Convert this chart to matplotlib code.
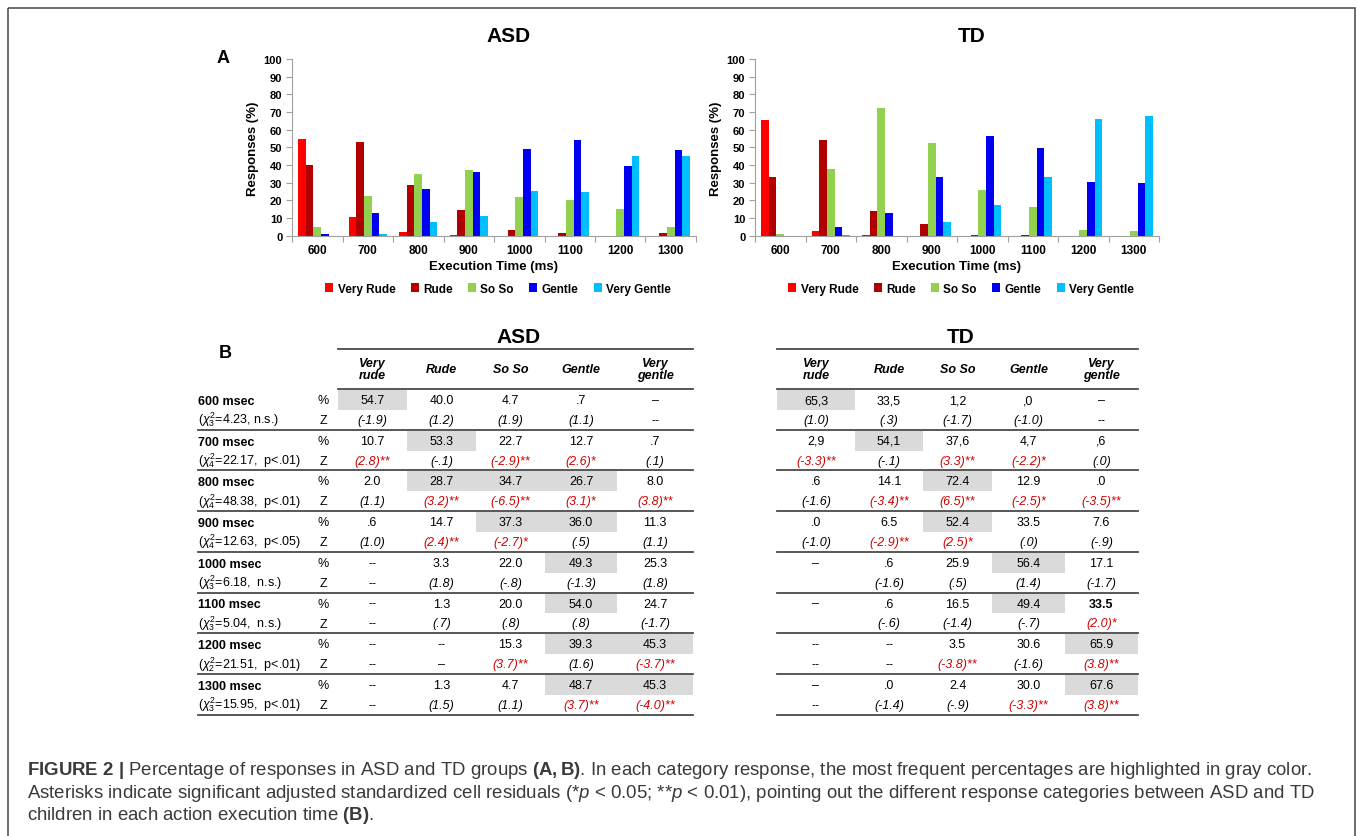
import matplotlib.pyplot as plt
import numpy as np
from matplotlib.patches import Rectangle

plt.rcParams['font.family'] = ['Liberation Sans', 'DejaVu Sans']
plt.rcParams['mathtext.fontset'] = 'custom'
plt.rcParams['mathtext.rm'] = 'Liberation Sans'
plt.rcParams['mathtext.it'] = 'Liberation Sans:italic'
plt.rcParams['mathtext.bf'] = 'Liberation Sans:bold'

# --- data (panel A) ---
times = ['600', '700', '800', '900', '1000', '1100', '1200', '1300']
categories = ['Very Rude', 'Rude', 'So So', 'Gentle', 'Very Gentle']
colors = ['#ff0000', '#b00000', '#92d050', '#0000f0', '#00bfff']

asd_very_rude = [54.7, 10.7, 2.0, 0.6, 0, 0, 0, 0]
asd_rude = [40.0, 53.3, 28.7, 14.7, 3.3, 1.3, 0, 1.3]
asd_so_so = [4.7, 22.7, 34.7, 37.3, 22.0, 20.0, 15.3, 4.7]
asd_gentle = [0.7, 12.7, 26.7, 36.0, 49.3, 54.0, 39.3, 48.7]
asd_very_gentle = [0, 0.7, 8.0, 11.3, 25.3, 24.7, 45.3, 45.3]

td_very_rude = [65.3, 2.9, 0.6, 0, 0, 0, 0, 0]
td_rude = [33.5, 54.1, 14.1, 6.5, 0.6, 0.6, 0, 0]
td_so_so = [1.2, 37.6, 72.4, 52.4, 25.9, 16.5, 3.5, 2.4]
td_gentle = [0, 4.7, 12.9, 33.5, 56.4, 49.4, 30.6, 30.0]
td_very_gentle = [0, 0.6, 0, 7.6, 17.1, 33.5, 65.9, 67.6]

# --- data (panel B) ---
col_headers = ['Very\nrude', 'Rude', 'So So', 'Gentle', 'Very\ngentle']
row_labels = ['600 msec', '700 msec', '800 msec', '900 msec',
              '1000 msec', '1100 msec', '1200 msec', '1300 msec']
chi_labels = [r'($\chi^2_3$=4.23, n.s.)', r'($\chi^2_4$=22.17,  p<.01)',
              r'($\chi^2_4$=48.38,  p<.01)', r'($\chi^2_4$=12.63,  p<.05)',
              r'($\chi^2_3$=6.18,  n.s.)', r'($\chi^2_3$=5.04,  n.s.)',
              r'($\chi^2_2$=21.51,  p<.01)', r'($\chi^2_3$=15.95,  p<.01)']

asd_pct = [['54.7', '40.0', '4.7', '.7', '–'],
           ['10.7', '53.3', '22.7', '12.7', '.7'],
           ['2.0', '28.7', '34.7', '26.7', '8.0'],
           ['.6', '14.7', '37.3', '36.0', '11.3'],
           ['--', '3.3', '22.0', '49.3', '25.3'],
           ['--', '1.3', '20.0', '54.0', '24.7'],
           ['--', '--', '15.3', '39.3', '45.3'],
           ['--', '1.3', '4.7', '48.7', '45.3']]
asd_z = [['(-1.9)', '(1.2)', '(1.9)', '(1.1)', '--'],
         ['(2.8)**', '(-.1)', '(-2.9)**', '(2.6)*', '(.1)'],
         ['(1.1)', '(3.2)**', '(-6.5)**', '(3.1)*', '(3.8)**'],
         ['(1.0)', '(2.4)**', '(-2.7)*', '(.5)', '(1.1)'],
         ['--', '(1.8)', '(-.8)', '(-1.3)', '(1.8)'],
         ['--', '(.7)', '(.8)', '(.8)', '(-1.7)'],
         ['--', '–', '(3.7)**', '(1.6)', '(-3.7)**'],
         ['--', '(1.5)', '(1.1)', '(3.7)**', '(-4.0)**']]
asd_gray = [[0], [1], [1, 2, 3], [2, 3], [3], [3], [3, 4], [3, 4]]

td_pct = [['65,3', '33,5', '1,2', ',0', '–'],
          ['2,9', '54,1', '37,6', '4,7', ',6'],
          ['.6', '14.1', '72.4', '12.9', '.0'],
          ['.0', '6.5', '52.4', '33.5', '7.6'],
          ['–', '.6', '25.9', '56.4', '17.1'],
          ['–', '.6', '16.5', '49.4', '33.5'],
          ['--', '--', '3.5', '30.6', '65.9'],
          ['–', '.0', '2.4', '30.0', '67.6']]
td_z = [['(1.0)', '(.3)', '(-1.7)', '(-1.0)', '--'],
        ['(-3.3)**', '(-.1)', '(3.3)**', '(-2.2)*', '(.0)'],
        ['(-1.6)', '(-3.4)**', '(6.5)**', '(-2.5)*', '(-3.5)**'],
        ['(-1.0)', '(-2.9)**', '(2.5)*', '(.0)', '(-.9)'],
        ['', '(-1.6)', '(.5)', '(1.4)', '(-1.7)'],
        ['', '(-.6)', '(-1.4)', '(-.7)', '(2.0)*'],
        ['--', '--', '(-3.8)**', '(-1.6)', '(3.8)**'],
        ['--', '(-1.4)', '(-.9)', '(-3.3)**', '(3.8)**']]
td_gray = [[0], [1], [2], [2], [3], [3], [4], [4]]

W, H = 1358, 837
fig = plt.figure(figsize=(W / 100, H / 100), dpi=100)
fig.patch.set_facecolor('white')


def frac(x0, y0, x1, y1):
    return [x0 / W, 1 - y1 / H, (x1 - x0) / W, (y1 - y0) / H]


def bar_panel(rect, title, series):
    ax = fig.add_axes(rect)
    x = np.arange(len(times))
    w = 0.152
    for i, vals in enumerate(series):
        ax.bar(x + (i - 2) * w, vals, w, color=colors[i], label=categories[i], linewidth=0)
    ax.set_xlim(-0.5, len(times) - 0.5)
    ax.set_ylim(0, 100)
    ax.set_yticks(range(0, 101, 10))
    ax.set_xticks(np.arange(-0.5, len(times), 1))
    ax.set_xticklabels([])
    ax.set_xticks(x, minor=True)
    ax.set_xticklabels(times, minor=True, fontweight='bold', fontsize=8.5)
    ax.tick_params(axis='x', which='minor', length=0, pad=6)
    ax.tick_params(axis='x', which='major', length=4, color='#a0a0a0')
    ax.tick_params(axis='y', length=4, color='#a0a0a0', pad=3, labelsize=8)
    for t in ax.get_yticklabels():
        t.set_fontweight('bold')
    for s in ['top', 'right']:
        ax.spines[s].set_visible(False)
    for s in ['left', 'bottom']:
        ax.spines[s].set_color('#a0a0a0')
    ax.set_title(title, fontsize=15, fontweight='bold', pad=13, x=0.535)
    ax.set_xlabel('Execution Time (ms)', fontsize=9.5, fontweight='bold')
    ax.xaxis.set_label_coords(0.5, -0.14)
    yl = ax.set_ylabel('Responses (%)', fontsize=9.5, fontweight='bold')
    yl.set_va('center')
    ax.yaxis.set_label_coords(-0.0965, 0.5)
    ax.legend(loc='center', bbox_to_anchor=(0.51, -0.3), ncol=5, frameon=False,
              handlelength=0.7, handleheight=0.7, handletextpad=0.35,
              columnspacing=1.3, prop={'weight': 'bold', 'size': 8.5})
    return ax


bar_panel(frac(292, 60, 696, 236.7), 'ASD',
          [asd_very_rude, asd_rude, asd_so_so, asd_gentle, asd_very_gentle])
bar_panel(frac(755, 60, 1159, 236.7), 'TD',
          [td_very_rude, td_rude, td_so_so, td_gentle, td_very_gentle])

# overlay axes in pixel coordinates for table, labels and caption
ov = fig.add_axes([0, 0, 1, 1])
ov.set_xlim(0, W)
ov.set_ylim(H, 0)
ov.axis('off')

ov.text(223, 58, 'A', fontsize=13, fontweight='bold', ha='center', va='center')
ov.text(225, 353, 'B', fontsize=13, fontweight='bold', ha='center', va='center')

line_c = '#4a4a4a'
red = '#d00000'
head_top, head_bot = 350, 390
row_h = 40.7
tfs = 9


def draw_table(edges, title, pct, zvals, gray, x_line0, labels=False):
    centers = [(a + b) / 2 for a, b in zip(edges[:-1], edges[1:])]
    ov.text((edges[0] + edges[-1]) / 2 + 3, 337, title, fontsize=15, fontweight='bold',
            ha='center', va='center')
    ov.plot([edges[0], edges[-1]], [head_top, head_top], color=line_c, lw=1.3)
    ov.plot([edges[0], edges[-1]], [head_bot, head_bot], color=line_c, lw=1.3)
    for c, h in enumerate(col_headers):
        ov.text(centers[c], 370, h, fontsize=tfs, fontweight='bold', style='italic',
                ha='center', va='center', linespacing=1.0)
    for r in range(len(pct)):
        top = head_bot + r * row_h
        for c in gray[r]:
            ov.add_patch(Rectangle((edges[c], top + 0.8), edges[c + 1] - edges[c], 20,
                                   facecolor='#dadada', edgecolor='none'))
        for c in range(5):
            bold = (title == 'TD' and r == 5 and c == 4)
            ov.text(centers[c], top + 11, pct[r][c], fontsize=tfs, ha='center', va='center',
                    fontweight='bold' if bold else 'normal')
            zs = zvals[r][c]
            ov.text(centers[c], top + 31, zs, fontsize=tfs, ha='center', va='center',
                    style='italic' if zs.startswith('(') else 'normal',
                    color=red if '*' in zs else 'black')
        if labels:
            ov.text(198, top + 12, row_labels[r], fontsize=tfs, fontweight='bold',
                    ha='left', va='center')
            ov.text(198, top + 30, chi_labels[r], fontsize=tfs, ha='left', va='center')
            ov.text(323, top + 11, '%', fontsize=tfs, ha='center', va='center')
            ov.text(323, top + 31, 'Z', fontsize=tfs, ha='center', va='center')
        ov.plot([x_line0, edges[-1]], [top + row_h, top + row_h], color=line_c, lw=1.3)


draw_table([338, 407, 476, 545, 617, 693], 'ASD', asd_pct, asd_z, asd_gray, 198, labels=True)
draw_table([777, 855, 923, 992, 1065, 1138], 'TD', td_pct, td_z, td_gray, 777)

# caption
cap_c = '#3a3a3a'
cap_fs = 13.4
ov.text(27, 771, r'$\bf{FIGURE\ 2\ |}$ Percentage of responses in ASD and TD groups $\bf{(A,B)}$. '
        'In each category response, the most frequent percentages are highlighted in gray color.',
        fontsize=cap_fs, color=cap_c, ha='left', va='center')
ov.text(27, 794, r'Asterisks indicate significant adjusted standardized cell residuals '
        r'(*$p$ < 0.05; **$p$ < 0.01), pointing out the different response categories between ASD and TD',
        fontsize=cap_fs, color=cap_c, ha='left', va='center')
ov.text(27, 816, r'children in each action execution time $\bf{(B)}$.',
        fontsize=cap_fs, color=cap_c, ha='left', va='center')

# outer frame
ov.add_patch(Rectangle((8, 9), 1347, 900, fill=False, edgecolor='#555555', lw=1.2))

fig.savefig('out.png', dpi=100)
